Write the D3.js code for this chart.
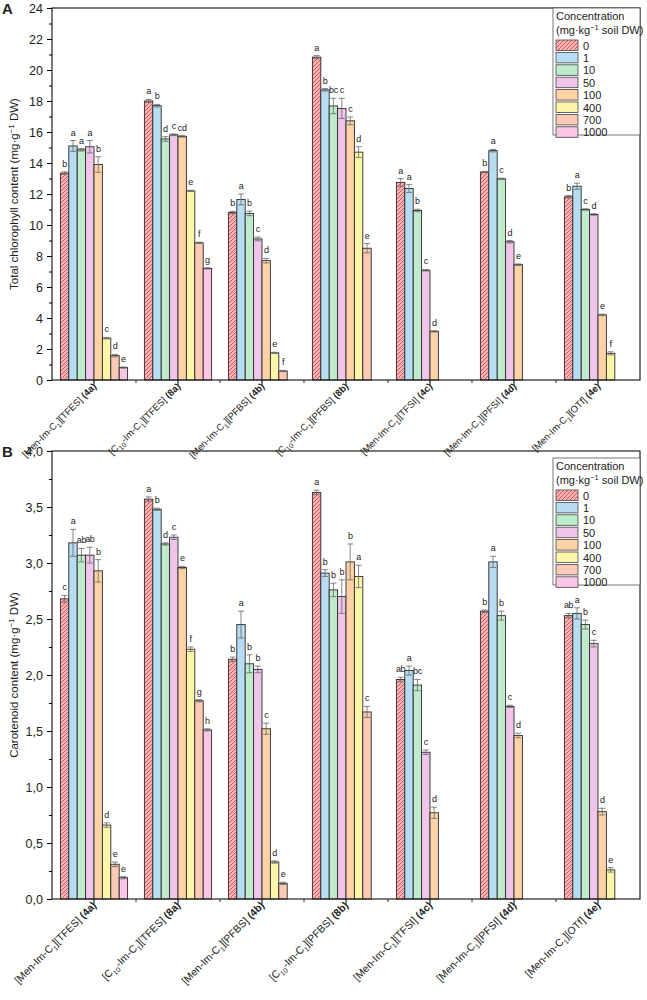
<!DOCTYPE html>
<html lang="en">
<head>
    <meta charset="UTF-8">
    <style>
        body { margin: 0; background: #fff; }
        svg text { font-family: "Liberation Sans", Arial, sans-serif; fill: #222; }
        .tick-label { font-size: 12.5px; }
        .letter { font-size: 9px; text-anchor: middle; letter-spacing: -0.4px; }
        .legend text { font-size: 11px; }
    </style>
    <script src="https://d3js.org/d3.v7.min.js"></script>
    <title>Chlorophyll and carotenoid content</title>
</head>
<body>
<svg width="647" height="1000"></svg>
<script>

    // categories (compound codes, cation, anion)
    var codes = ["4a", "8a", "4b", "8b", "4c", "4d", "4e"];
    var cations = ["Men", "C10", "Men", "C10", "Men", "Men", "Men"];
    var anions = ["TFES", "TFES", "PFBS", "PFBS", "TFSI", "PFSI", "OTf"];
    var concs = ["0", "1", "10", "50", "100", "400", "700", "1000"];
    var colors = ["#f6b4b4", "#b8dcf2", "#bdebcb", "#efc6ea", "#fdd3a6", "#fcf7a8", "#fbcab6", "#f9c6e6"];

    // panel A: total chlorophyll (mg/g DW), one array per compound
    var chlA = [
        [13.35, 15.1, 14.85, 15.05, 13.9, 2.7, 1.57, 0.8],
        [18.0, 17.7, 15.55, 15.82, 15.72, 12.2, 8.85, 7.2],
        [10.8, 11.65, 10.75, 9.1, 7.7, 1.75, 0.58],
        [20.83, 18.72, 17.68, 17.52, 16.72, 14.7, 8.5],
        [12.74, 12.35, 10.94, 7.08, 3.14],
        [13.42, 14.8, 12.98, 8.92, 7.44],
        [11.82, 12.5, 11.0, 10.68, 4.2, 1.72]
    ];
    var chlErr = [
        [0.08, 0.35, 0.08, 0.4, 0.5, 0.05, 0.08, 0.04],
        [0.1, 0.08, 0.15, 0.05, 0.05, 0.04, 0.04, 0.04],
        [0.08, 0.35, 0.15, 0.12, 0.15, 0.04, 0.04],
        [0.1, 0.08, 0.5, 0.65, 0.25, 0.35, 0.3],
        [0.25, 0.25, 0.08, 0.05, 0.04],
        [0.04, 0.08, 0.04, 0.08, 0.05],
        [0.08, 0.2, 0.05, 0.05, 0.05, 0.1]
    ];
    var chlLetters = [
        ["b", "a", "a", "a", "b", "c", "d", "e"],
        ["a", "b", "d", "c", "cd", "e", "f", "g"],
        ["b", "a", "b", "c", "d", "e", "f"],
        ["a", "b", "bc", "c", "c", "d", "e"],
        ["a", "a", "b", "c", "d"],
        ["b", "a", "c", "d", "e"],
        ["b", "a", "c", "d", "e", "f"]
    ];

    // panel B: carotenoids (mg/g DW)
    var carB = [
        [2.68, 3.18, 3.07, 3.07, 2.93, 0.66, 0.31, 0.19],
        [3.57, 3.48, 3.17, 3.23, 2.96, 2.23, 1.77, 1.51],
        [2.14, 2.45, 2.10, 2.05, 1.52, 0.33, 0.14],
        [3.63, 2.91, 2.76, 2.70, 3.01, 2.88, 1.67],
        [1.96, 2.04, 1.91, 1.31, 0.77],
        [2.57, 3.01, 2.53, 1.72, 1.46],
        [2.53, 2.55, 2.45, 2.28, 0.78, 0.26]
    ];
    var carErr = [
        [0.03, 0.12, 0.06, 0.07, 0.1, 0.02, 0.02, 0.01],
        [0.02, 0.01, 0.01, 0.02, 0.01, 0.02, 0.01, 0.01],
        [0.02, 0.12, 0.08, 0.03, 0.05, 0.01, 0.01],
        [0.02, 0.03, 0.06, 0.15, 0.16, 0.1, 0.05],
        [0.02, 0.04, 0.05, 0.02, 0.05],
        [0.01, 0.05, 0.04, 0.01, 0.02],
        [0.02, 0.05, 0.04, 0.03, 0.03, 0.02]
    ];
    var carLetters = [
        ["c", "a", "ab", "ab", "b", "d", "e", "e"],
        ["a", "b", "d", "c", "e", "f", "g", "h"],
        ["b", "a", "b", "b", "c", "d", "e"],
        ["a", "b", "b", "b", "b", "a", "c"],
        ["ab", "a", "bc", "c", "d"],
        ["b", "a", "b", "c", "d"],
        ["ab", "a", "b", "c", "d", "e"]
    ];

    var svg = d3.select("svg");

    // hatch for the control (0) bars
    var pat = svg.append("defs").append("pattern")
        .attr("id", "hatch")
        .attr("patternUnits", "userSpaceOnUse")
        .attr("width", 4).attr("height", 4);
    pat.append("rect").attr("width", 4).attr("height", 4).attr("fill", colors[0]);
    pat.append("path")
        .attr("d", "M-1,1 l2,-2 M0,4 l4,-4 M3,5 l2,-2")
        .attr("stroke", "#d9474b").attr("stroke-width", 0.9);

    function fillFor(i) { return i === 0 ? "url(#hatch)" : colors[i]; }

    function drawPanel(opt) {
        var left = 52, right = 640, top = opt.top, bottom = opt.bottom;
        var g = svg.append("g");

        var x = d3.scaleBand().domain(codes).range([left, right]);
        var xi = d3.scaleBand().domain(concs).range([0, x.bandwidth()]).paddingOuter(1);
        var y = d3.scaleLinear().domain([0, opt.max]).range([bottom, top]);

        // bars
        opt.values.forEach(function(vals, gi) {
            var grp = g.append("g").attr("transform", "translate(" + x(codes[gi]) + ",0)");
            var cells = vals.map(function(v, i) {
                return { v: v, e: opt.errs[gi][i], l: opt.letters[gi][i], i: i };
            });
            var bar = grp.selectAll("g").data(cells).enter().append("g");
            bar.append("rect")
                .attr("x", function(d) { return xi(concs[d.i]); })
                .attr("y", function(d) { return y(d.v); })
                .attr("width", xi.bandwidth())
                .attr("height", function(d) { return y(0) - y(d.v); })
                .attr("fill", function(d) { return fillFor(d.i); })
                .attr("stroke", "#2a2a2a").attr("stroke-width", 0.9);
            // error bars
            bar.append("path")
                .attr("d", function(d) {
                    var cx = xi(concs[d.i]) + xi.bandwidth() / 2, w = 3;
                    return "M" + cx + "," + y(d.v - d.e) + "V" + y(d.v + d.e) +
                        "M" + (cx - w) + "," + y(d.v + d.e) + "h" + 2 * w +
                        "M" + (cx - w) + "," + y(d.v - d.e) + "h" + 2 * w;
                })
                .attr("stroke", "#666").attr("stroke-width", 0.8).attr("fill", "none");
            bar.append("text")
                .attr("class", "letter")
                .attr("x", function(d) { return xi(concs[d.i]) + xi.bandwidth() / 2; })
                .attr("y", function(d) { return y(d.v + d.e) - 5; })
                .text(function(d) { return d.l; });
        });

        // frame
        g.append("rect")
            .attr("x", left).attr("y", top)
            .attr("width", right - left).attr("height", bottom - top)
            .attr("fill", "none").attr("stroke", "#222").attr("stroke-width", 1.2);

        // y axis
        var yAxis = d3.axisLeft(y).tickValues(opt.ticks).tickSize(5).tickFormat(opt.fmt);
        var ya = g.append("g").attr("transform", "translate(" + left + ",0)").call(yAxis);
        ya.select(".domain").remove();
        ya.selectAll("text").attr("class", "tick-label").attr("dx", "-1");
        var ym = d3.axisLeft(y).tickValues(opt.minor).tickSize(3).tickFormat("");
        g.append("g").attr("transform", "translate(" + left + ",0)").call(ym)
            .select(".domain").remove();

        // x axis: center ticks + boundary ticks
        var xa = g.append("g").attr("transform", "translate(0," + bottom + ")")
            .call(d3.axisBottom(x).tickSize(5).tickFormat(""));
        xa.select(".domain").remove();
        var bounds = codes.slice(1).map(function(c) { return x(c); });
        g.selectAll(".xb").data(bounds).enter().append("line")
            .attr("x1", function(d) { return d; }).attr("x2", function(d) { return d; })
            .attr("y1", bottom).attr("y2", bottom + 3)
            .attr("stroke", "#222");

        // category labels (rotated)
        codes.forEach(function(c, i) {
            var t = g.append("text")
                .attr("transform", "translate(" + (x(c) + x.bandwidth() / 2 + 3) + "," + (bottom + 7) + ") rotate(-45)")
                .attr("text-anchor", "end")
                .attr("font-size", opt.labelSize);
            if (cations[i] === "Men") {
                t.append("tspan").text("[Men-Im-C");
            } else {
                t.append("tspan").text("[C");
                t.append("tspan").attr("font-size", 7).attr("dy", 3).text("10");
                t.append("tspan").attr("dy", -3).text("-Im-C");
            }
            t.append("tspan").attr("font-size", 7).attr("dy", 3).text("1");
            t.append("tspan").attr("dy", -3).text("][" + anions[i] + "] ");
            t.append("tspan").attr("font-weight", "bold").text("(" + c + ")");
        });

        // y title
        var yt = g.append("text")
            .attr("transform", "translate(18," + ((top + bottom) / 2) + ") rotate(-90)")
            .attr("text-anchor", "middle").attr("font-size", 11.5);
        yt.append("tspan").text(opt.title + " (mg·g");
        yt.append("tspan").attr("font-size", 8).attr("dy", -4).text("−1");
        yt.append("tspan").attr("dy", 4).text(" DW)");

        // panel letter
        g.append("text").attr("x", 2).attr("y", top + 6)
            .attr("font-size", 15).attr("font-weight", "bold").text(opt.panel);

        // legend
        var lg = g.append("g").attr("class", "legend")
            .attr("transform", "translate(553," + (top + opt.legendOff) + ")");
        lg.append("rect").attr("width", 87).attr("height", 127)
            .attr("fill", "#fff").attr("stroke", "#555").attr("stroke-width", 0.8);
        lg.append("text").attr("x", 3).attr("y", 12).text("Concentration");
        var lt = lg.append("text").attr("x", 3).attr("y", 26);
        lt.append("tspan").text("(mg·kg");
        lt.append("tspan").attr("font-size", 7.5).attr("dy", -4).text("−1");
        lt.append("tspan").attr("dy", 4).text(" soil DW)");
        var row = lg.selectAll(".row").data(concs).enter().append("g")
            .attr("transform", function(d, i) { return "translate(3," + (32 + i * 12.4) + ")"; });
        row.append("rect").attr("width", 22).attr("height", 10.5)
            .attr("fill", function(d, i) { return fillFor(i); })
            .attr("stroke", "#444").attr("stroke-width", 0.8);
        row.append("text").attr("x", 27).attr("y", 9.5).text(function(d) { return d; });
    }

    var fmtComma = function(d) { return d3.format(".1f")(d).replace(".", ","); };

    drawPanel({
        panel: "A", top: 8, bottom: 380, max: 24, labelSize: 9.5,
        values: chlA, errs: chlErr, letters: chlLetters,
        ticks: d3.range(0, 25, 2), minor: d3.range(1, 24, 2),
        fmt: d3.format("d"), title: "Total chlorophyll content", legendOff: 0
    });

    drawPanel({
        panel: "B", top: 451, bottom: 899, max: 4, labelSize: 10.5,
        values: carB, errs: carErr, letters: carLetters,
        ticks: d3.range(0, 4.01, 0.5), minor: d3.range(0.25, 4, 0.5),
        fmt: fmtComma, title: "Carotenoid content", legendOff: 7
    });

</script>
</body>
</html>
